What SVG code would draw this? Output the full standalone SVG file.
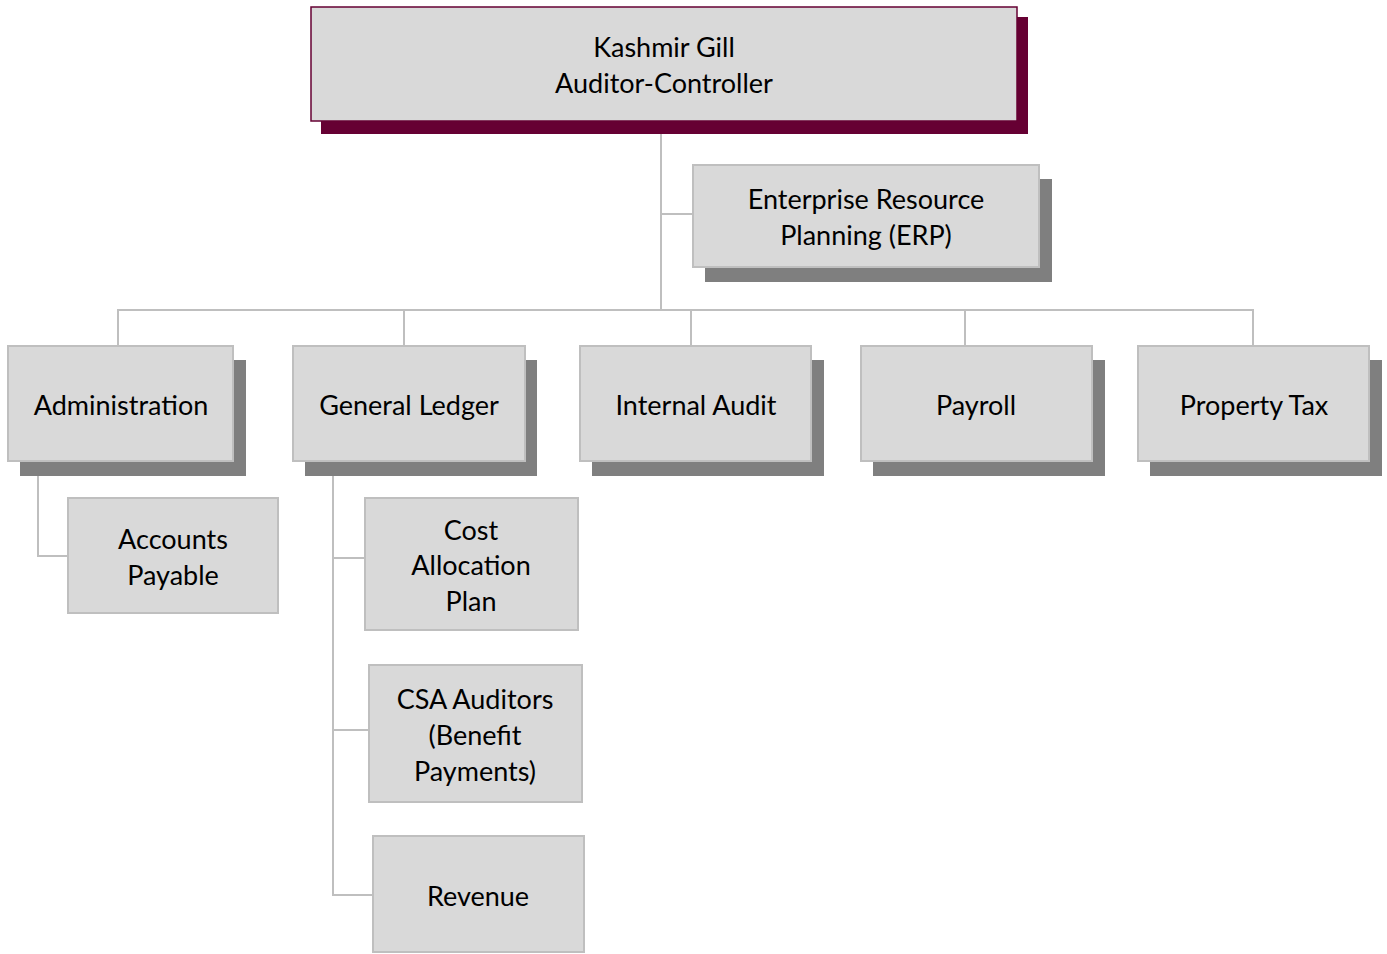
<svg xmlns="http://www.w3.org/2000/svg" width="1387" height="954" viewBox="0 0 1387 954">
  <style>
    .box { fill: #d9d9d9; stroke: #bfbfbf; stroke-width: 2; }
    .shadow { fill: #7f7f7f; }
    .top-box { fill: #d9d9d9; stroke: #660033; stroke-width: 1.5; }
    .top-shadow { fill: #660033; }
    .label { font-family: Lato, "Liberation Sans", sans-serif; font-size: 27px; fill: #000; text-anchor: middle; }
    .link { fill: none; stroke: #bfbfbf; stroke-width: 2; }
  </style>

  <!-- reporting lines -->
  <g id="connectors">
    <path class="link" d="M661 121 V309"/>
    <path class="link" d="M662 214 H693"/>
    <path class="link" d="M118 346 V310 H1253 V346"/>
    <path class="link" d="M404 310 V346"/>
    <path class="link" d="M691 309 V346"/>
    <path class="link" d="M965 309 V346"/>
    <path class="link" d="M38 476 V556 H68"/>
    <path class="link" d="M333 476 V895 H373"/>
    <path class="link" d="M333 558 H365"/>
    <path class="link" d="M333 730 H369"/>
  </g>

  <g id="auditor-controller">
    <rect class="top-shadow" x="321" y="17" width="707" height="117"/>
    <rect class="top-box" x="311" y="7" width="706" height="114"/>
    <text class="label" x="664" y="57">Kashmir Gill</text>
    <text class="label" x="664" y="93">Auditor-Controller</text>
  </g>

  <g id="erp">
    <rect class="shadow" x="705" y="179" width="347" height="103"/>
    <rect class="box" x="693" y="165" width="346" height="102"/>
    <text class="label" x="866" y="209">Enterprise Resource</text>
    <text class="label" x="866" y="245">Planning (ERP)</text>
  </g>

  <g id="administration">
    <rect class="shadow" x="20" y="360" width="226" height="116"/>
    <rect class="box" x="8" y="346" width="225" height="115"/>
    <text class="label" x="121" y="415">Administration</text>
  </g>

  <g id="general-ledger">
    <rect class="shadow" x="305" y="360" width="232" height="116"/>
    <rect class="box" x="293" y="346" width="232" height="115"/>
    <text class="label" x="409" y="415">General Ledger</text>
  </g>

  <g id="internal-audit">
    <rect class="shadow" x="592" y="360" width="232" height="116"/>
    <rect class="box" x="580" y="346" width="231" height="115"/>
    <text class="label" x="696" y="415">Internal Audit</text>
  </g>

  <g id="payroll">
    <rect class="shadow" x="873" y="360" width="232" height="116"/>
    <rect class="box" x="861" y="346" width="231" height="115"/>
    <text class="label" x="976" y="415">Payroll</text>
  </g>

  <g id="property-tax">
    <rect class="shadow" x="1150" y="360" width="232" height="116"/>
    <rect class="box" x="1138" y="346" width="231" height="115"/>
    <text class="label" x="1254" y="415">Property Tax</text>
  </g>

  <g id="accounts-payable">
    <rect class="box" x="68" y="498" width="210" height="115"/>
    <text class="label" x="173" y="549">Accounts</text>
    <text class="label" x="173" y="585">Payable</text>
  </g>

  <g id="cost-allocation-plan">
    <rect class="box" x="365" y="498" width="213" height="132"/>
    <text class="label" x="471" y="540">Cost</text>
    <text class="label" x="471" y="575">Allocation</text>
    <text class="label" x="471" y="611">Plan</text>
  </g>

  <g id="csa-auditors">
    <rect class="box" x="369" y="665" width="213" height="137"/>
    <text class="label" x="475" y="709">CSA Auditors</text>
    <text class="label" x="475" y="745">(Benefit</text>
    <text class="label" x="475" y="781">Payments)</text>
  </g>

  <g id="revenue">
    <rect class="box" x="373" y="836" width="211" height="116"/>
    <text class="label" x="478" y="906">Revenue</text>
  </g>
</svg>
